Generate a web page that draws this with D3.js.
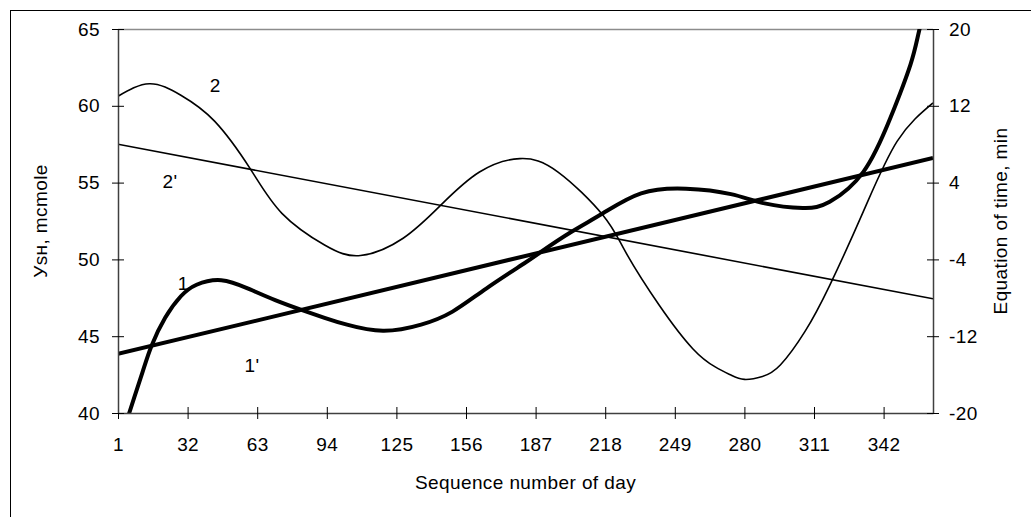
<!doctype html>
<html>
<head>
<meta charset="UTF-8">
<title>Ysh and equation of time</title>
<style>
  body { margin: 0; background: #fff; }
  svg { display: block; font-family: "Liberation Sans", Arial, sans-serif; }
</style>
</head>
<body>
<div id="chart"></div>
<script src="https://cdn.jsdelivr.net/npm/d3@7"></script>
<script>
// curve 1 (left axis, mcmole)
var days1 = [1, 6, 12, 16, 22, 29, 36, 47, 59, 71, 83, 93, 103, 119, 136, 150, 165, 182, 190, 203, 217, 234, 254, 274, 289, 306, 318, 333, 345, 354, 358, 364];
var ysh1 = [37.7, 40.0, 42.7, 44.4, 46.2, 47.6, 48.35, 48.65, 48.1, 47.35, 46.7, 46.2, 45.75, 45.35, 45.75, 46.6, 48.1, 49.75, 50.55, 51.8, 53.0, 54.3, 54.6, 54.25, 53.65, 53.35, 53.75, 55.7, 59.2, 62.7, 65.0, 68.5];
// curve 2 (right axis, min)
var days2 = [1, 15, 29, 44, 60, 74, 93, 109, 128, 145, 162, 180, 197, 217, 227, 242, 257, 267, 274, 280, 288, 296, 307, 318, 333, 348, 364];
var eot2 = [13.0, 14.3, 13.1, 10.4, 5.4, 0.8, -2.5, -3.6, -1.8, 1.7, 5.1, 6.5, 5.1, 0.6, -3.2, -8.75, -13.3, -15.2, -16.05, -16.5, -16.2, -15.0, -11.5, -6.7, 1.0, 8.3, 12.3];
// straight lines 1' (left axis) and 2' (right axis)
var trendDays = [1, 364];
var trend1 = [43.85, 56.6];
var trend2 = [8.0, -8.1];
// tick labels
var xTicks = [1, 32, 63, 94, 125, 156, 187, 218, 249, 280, 311, 342];
var leftTicks = [40, 45, 50, 55, 60, 65];
var rightTicks = [-20, -12, -4, 4, 12, 20];

var W = 1031, H = 517;
var m = { left: 118, right: 933, top: 29, bottom: 413 };
var FS = "19px";

var svg = d3.select("#chart").append("svg")
  .attr("width", W).attr("height", H)
  .style("font-size", FS).style("letter-spacing", "0.4px");

// outer frame (only top/left edges visible)
svg.append("rect")
  .attr("x", 10.5).attr("y", 10.5)
  .attr("width", W).attr("height", H)
  .attr("fill", "none").attr("stroke", "#000");

var x = d3.scaleLinear().domain([1, 364]).range([m.left, m.right]);
var yL = d3.scaleLinear().domain([40, 65]).range([m.bottom, m.top]);
var yR = d3.scaleLinear().domain([-20, 20]).range([m.bottom, m.top]);

svg.append("clipPath").attr("id", "plot")
  .append("rect")
  .attr("x", m.left).attr("y", m.top)
  .attr("width", m.right - m.left).attr("height", m.bottom - m.top);

// plot area top edge
svg.append("line")
  .attr("x1", m.left).attr("x2", m.right)
  .attr("y1", m.top + 0.5).attr("y2", m.top + 0.5)
  .attr("stroke", "#8c8c8c").attr("stroke-width", 1.5);

var g = svg.append("g").attr("clip-path", "url(#plot)");

var lineL = d3.line().x(function(d) { return x(d[0]); }).y(function(d) { return yL(d[1]); })
  .curve(d3.curveNatural);
var lineR = d3.line().x(function(d) { return x(d[0]); }).y(function(d) { return yR(d[1]); })
  .curve(d3.curveNatural);

g.append("path")
  .attr("d", lineR(d3.zip(trendDays, trend2)))
  .attr("fill", "none").attr("stroke", "#000").attr("stroke-width", 1.6);
g.append("path")
  .attr("d", lineR(d3.zip(days2, eot2)))
  .attr("fill", "none").attr("stroke", "#000").attr("stroke-width", 1.6);
g.append("path")
  .attr("d", lineL(d3.zip(trendDays, trend1)))
  .attr("fill", "none").attr("stroke", "#000").attr("stroke-width", 4);
g.append("path")
  .attr("d", lineL(d3.zip(days1, ysh1)))
  .attr("fill", "none").attr("stroke", "#000").attr("stroke-width", 4);

// axes
function fmt(d) { return String(d); }
function styleAxis(sel) {
  sel.attr("font-size", null).attr("font-family", null);
  sel.select(".domain").attr("stroke", "#404040").attr("stroke-width", 1.5);
  sel.selectAll(".tick line").attr("stroke", "#000");
  sel.selectAll(".tick text").attr("fill", "#000");
}

var xAxis = svg.append("g")
  .attr("transform", "translate(0," + m.bottom + ")")
  .call(d3.axisBottom(x).tickValues(xTicks).tickFormat(fmt).tickSizeInner(6).tickSizeOuter(0).tickPadding(19));
xAxis.selectAll(".tick line").attr("y1", -6);
styleAxis(xAxis);

var lAxis = svg.append("g")
  .attr("transform", "translate(" + m.left + ",0)")
  .call(d3.axisLeft(yL).tickValues(leftTicks).tickFormat(fmt).tickSizeInner(6).tickSizeOuter(0).tickPadding(12));
lAxis.selectAll(".tick line").attr("x1", 6);
styleAxis(lAxis);

var rAxis = svg.append("g")
  .attr("transform", "translate(" + m.right + ",0)")
  .call(d3.axisRight(yR).tickValues(rightTicks).tickFormat(fmt).tickSizeInner(6).tickSizeOuter(0).tickPadding(10));
rAxis.selectAll(".tick line").attr("x1", -6);
styleAxis(rAxis);

// axis titles
svg.append("text")
  .attr("x", (m.left + m.right) / 2).attr("y", 489)
  .attr("text-anchor", "middle")
  .text("Sequence number of day");

svg.append("text")
  .attr("transform", "translate(47," + ((m.top + m.bottom) / 2) + ") rotate(-90)")
  .attr("text-anchor", "middle")
  .text("Уsн, mcmole");

svg.append("text")
  .attr("transform", "translate(1007," + ((m.top + m.bottom) / 2) + ") rotate(-90)")
  .attr("text-anchor", "middle")
  .text("Equation of time, min");

// curve labels
var labels = [
  { t: "2", d: 44.3, v: 61.35 },
  { t: "2'", d: 24.2, v: 55.04 },
  { t: "1", d: 30, v: 48.4 },
  { t: "1'", d: 60.7, v: 43.06 }
];
svg.selectAll(".lbl").data(labels).enter().append("text")
  .attr("class", "lbl")
  .attr("x", function(d) { return x(d.d); })
  .attr("y", function(d) { return yL(d.v); })
  .attr("text-anchor", "middle").attr("dominant-baseline", "central")
  .text(function(d) { return d.t; });
</script>
</body>
</html>
